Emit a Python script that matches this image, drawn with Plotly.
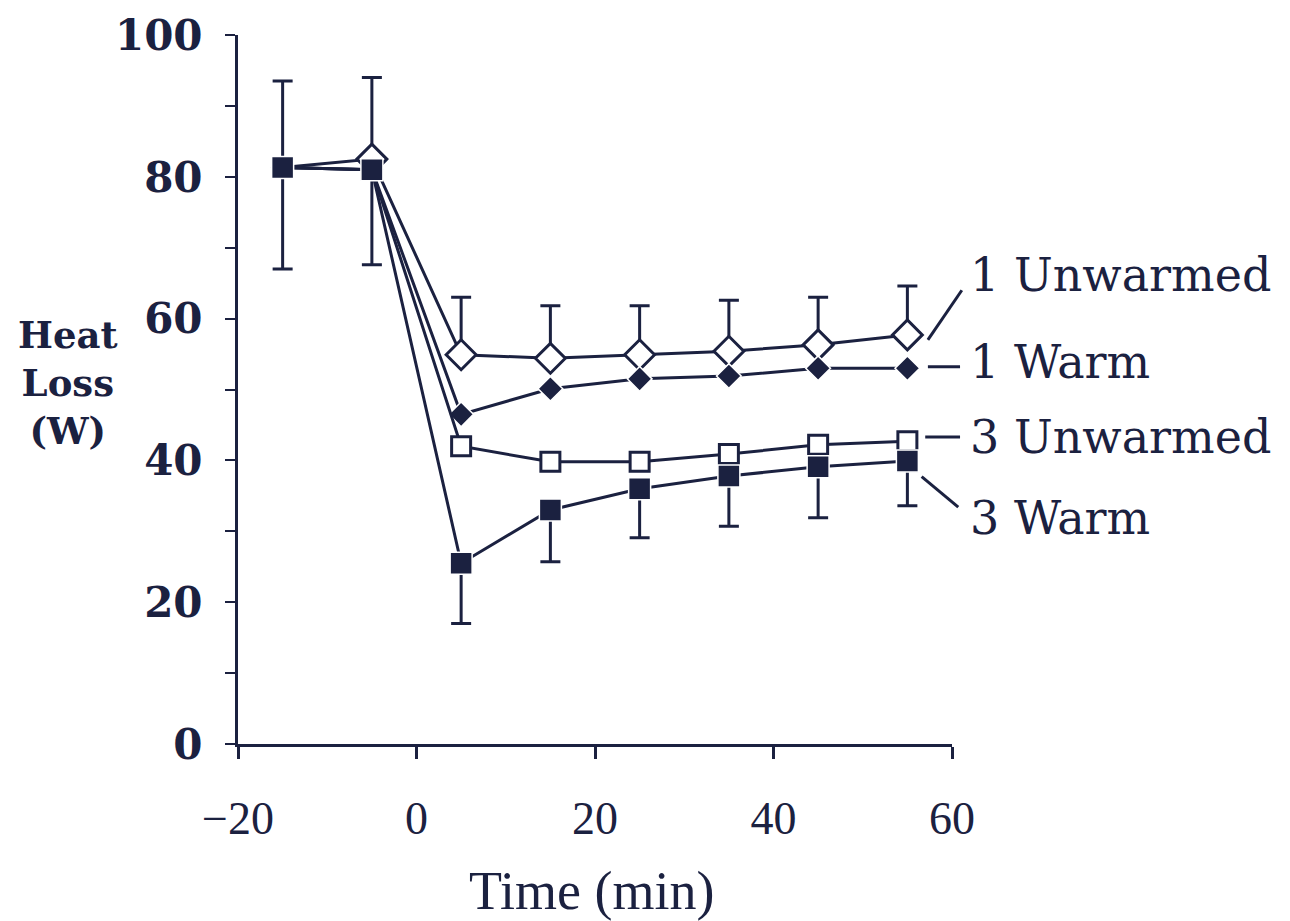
import plotly.graph_objects as go

# ---- data ----
time_min = [-15, -5, 5, 15, 25, 35, 45, 55]

unwarmed1 = [81.3, 82.5, 54.9, 54.4, 54.9, 55.4, 56.3, 57.7]
unwarmed1_upper = [93.5, 94.0, 63.0, 61.8, 61.8, 62.6, 63.0, 64.6]

warm1 = [81.3, 81.0, 46.5, 50.1, 51.5, 51.9, 53.0, 53.0]

unwarmed3 = [81.3, 81.0, 42.0, 39.8, 39.8, 40.9, 42.2, 42.7]

warm3 = [81.3, 81.0, 25.5, 33.0, 36.0, 37.8, 39.1, 39.9]
warm3_lower = [67.0, 67.6, 17.0, 25.7, 29.1, 30.7, 31.9, 33.6]

series_labels = ["1 Unwarmed", "1 Warm", "3 Unwarmed", "3 Warm"]
label_y = [66.1, 53.9, 43.3, 31.9]

x_ticks = [-20, 0, 20, 40, 60]
x_ticktext = ["\u221220", "0", "20", "40", "60"]
y_ticks = [0, 10, 20, 30, 40, 50, 60, 70, 80, 90, 100]
y_ticktext = ["0", "", "20", "", "40", "", "60", "", "80", "", "100"]

X_MIN, X_MAX = -20, 60
Y_MIN, Y_MAX = 0, 100

INK = "#1b2140"
SERIF = "DejaVu Serif"


def px(x):
    return (x - X_MIN) / (X_MAX - X_MIN)


def py(y):
    return (y - Y_MIN) / (Y_MAX - Y_MIN)


fig = go.Figure()

err_up = [u - v for u, v in zip(unwarmed1_upper, unwarmed1)]
err_dn = [v - l for v, l in zip(warm3, warm3_lower)]

fig.add_trace(go.Scatter(
    x=time_min, y=unwarmed1, mode="lines+markers", name=series_labels[0],
    line=dict(color=INK, width=3),
    marker=dict(symbol="diamond", size=[15] + [23] * 7, color="white", opacity=1,
                line=dict(color=INK, width=3)),
    error_y=dict(type="data", symmetric=False, array=err_up, arrayminus=[0]*len(err_up),
                 color=INK, thickness=3, width=10),
))
fig.add_trace(go.Scatter(
    x=time_min, y=warm1, mode="lines+markers", name=series_labels[1],
    line=dict(color=INK, width=3),
    marker=dict(symbol="diamond", size=[15] + [19] * 7, color=INK, opacity=1,
                line=dict(color="white", width=1.5)),
))
fig.add_trace(go.Scatter(
    x=time_min, y=unwarmed3, mode="lines+markers", name=series_labels[2],
    line=dict(color=INK, width=3),
    marker=dict(symbol="square", size=19, color="white", line=dict(color=INK, width=3)),
))
fig.add_trace(go.Scatter(
    x=time_min, y=warm3, mode="lines+markers", name=series_labels[3],
    line=dict(color=INK, width=3),
    marker=dict(symbol="square", size=22, color=INK, line=dict(color="white", width=1.5)),
    error_y=dict(type="data", symmetric=False, array=[0]*len(err_dn), arrayminus=err_dn,
                 color=INK, thickness=3, width=10),
))

# series labels
for txt, yy in zip(series_labels, label_y):
    fig.add_annotation(x=px(61.8), y=py(yy), xref="paper", yref="paper", text=txt,
                       showarrow=False, xanchor="left", yanchor="middle",
                       font=dict(family=SERIF, size=46, color=INK))

# leader lines
leaders = [
    (57.3, 57.0, 61.1, 64.0),
    (57.3, 53.2, 60.9, 53.2),
    (57.0, 43.3, 60.9, 43.3),
    (56.6, 37.7, 60.7, 33.4),
]
for x0, y0, x1, y1 in leaders:
    fig.add_shape(type="line", xref="paper", yref="paper",
                  x0=px(x0), y0=py(y0), x1=px(x1), y1=py(y1),
                  line=dict(color=INK, width=3))

# axis titles
fig.add_annotation(x=-0.238, y=0.509, xref="paper", yref="paper",
                   text="Heat<br>Loss<br>(W)", showarrow=False, align="center",
                   xanchor="center", yanchor="middle",
                   font=dict(family=SERIF, size=37, color=INK, weight="bold"))
fig.add_annotation(x=0.496, y=-0.207, xref="paper", yref="paper",
                   text="Time (min)", showarrow=False, xanchor="center", yanchor="middle",
                   font=dict(family="Liberation Serif", size=54, color=INK))

fig.update_xaxes(range=[X_MIN, X_MAX], tickvals=x_ticks, ticktext=x_ticktext,
                 showgrid=False, zeroline=False, showline=True, linecolor=INK, linewidth=3,
                 ticks="outside", ticklen=12, tickwidth=3, tickcolor=INK,
                 ticklabelstandoff=20,
                 tickfont=dict(family="Liberation Serif", size=46, color=INK))
fig.update_yaxes(range=[Y_MIN, Y_MAX], tickvals=y_ticks, ticktext=y_ticktext,
                 showgrid=False, zeroline=False, showline=True, linecolor=INK, linewidth=3,
                 ticks="outside", ticklen=10, tickwidth=2, tickcolor=INK,
                 ticklabelstandoff=14,
                 tickfont=dict(family=SERIF, size=42, color=INK, weight="bold"))

fig.update_layout(
    width=1290, height=921,
    margin=dict(l=238, r=338, t=35, b=177),
    paper_bgcolor="white", plot_bgcolor="white",
    showlegend=False,
)

fig.write_html("out.html")
